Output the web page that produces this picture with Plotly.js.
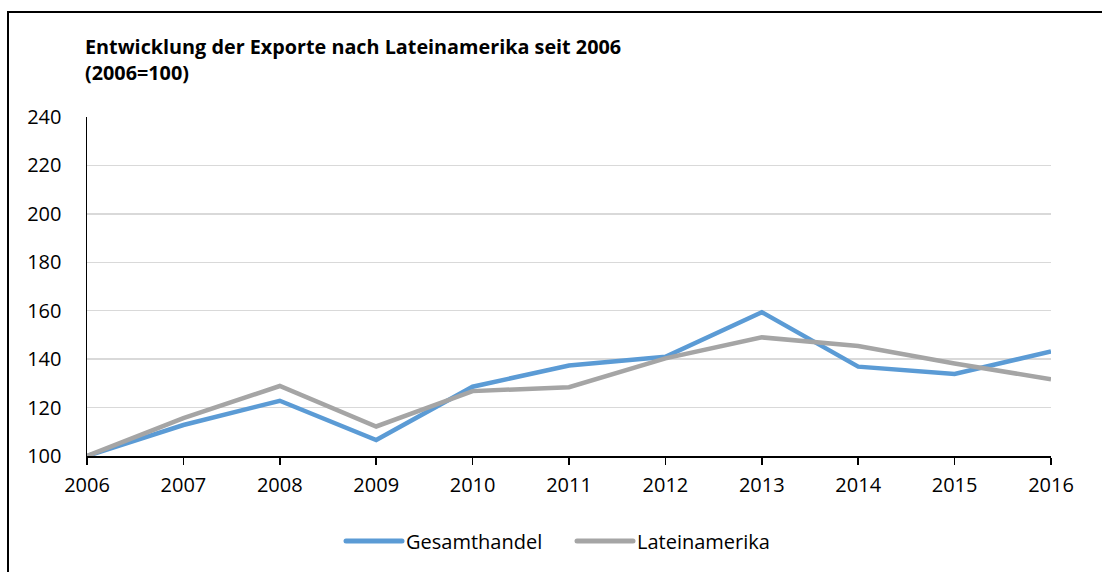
<!DOCTYPE html>
<html>
<head>
<meta charset="utf-8">
<script src="https://cdn.plot.ly/plotly-3.0.1.min.js"></script>
<style>html,body{margin:0;padding:0;background:#fff;}#chart{width:1102px;height:572px;}</style>
</head>
<body>
<div id="chart"></div>
<script>
const years = [2006, 2007, 2008, 2009, 2010, 2011, 2012, 2013, 2014, 2015, 2016];
const gesamthandel = [100, 112.8, 122.8, 106.6, 128.6, 137.4, 141, 159.4, 136.9, 133.9, 143.2];
const lateinamerika = [100, 115.6, 128.9, 112.2, 126.8, 128.4, 140.3, 149.0, 145.4, 138.2, 131.7];
const seriesNames = ["Gesamthandel", "Lateinamerika"];
const titleText = "Entwicklung der Exporte nach Lateinamerika seit 2006<br>(2006=100)";
const yTicks = [100, 120, 140, 160, 180, 200, 220, 240];

const font = "'Open Sans', 'Noto Sans', sans-serif";
const traces = [
  {x: years, y: gesamthandel, name: seriesNames[0], type: 'scatter', mode: 'lines',
   line: {color: '#5B9BD5', width: 4.5}},
  {x: years, y: lateinamerika, name: seriesNames[1], type: 'scatter', mode: 'lines',
   line: {color: '#A5A5A5', width: 4.5}}
];
const L = 87, R = 1051, T = 117, B = 456;
const pw = R - L, ph = B - T;
const layout = {
  width: 1102, height: 572,
  margin: {l: L, r: 1102 - R, t: T, b: 572 - B},
  paper_bgcolor: '#fff', plot_bgcolor: '#fff',
  font: {family: font, color: '#000', size: 20},
  title: {text: titleText, x: 85 / 1102, xanchor: 'left', xref: 'container',
          y: 1 - 54 / 572, yanchor: 'top', yref: 'container',
          font: {family: font, size: 19.8, color: '#000', weight: 'bold', lineposition: 'none'}},
  showlegend: true,
  legend: {orientation: 'h', x: (567 - L) / pw, xanchor: 'center', y: (B - 541) / ph, yanchor: 'middle',
           font: {family: font, size: 20, color: '#000'}, itemwidth: 60, traceorder: 'normal',
           entrywidth: 156, entrywidthmode: 'pixels'},
  xaxis: {range: [2006, 2016], tickvals: years, ticktext: years.map(String), showgrid: false, zeroline: false,
          showline: true, linecolor: '#000', linewidth: 1.5, ticks: 'outside', ticklen: 7, tickcolor: '#000',
          tickwidth: 1.5, ticklabelstandoff: 3, fixedrange: true},
  yaxis: {range: [100, 240], tickvals: yTicks, showgrid: true, gridcolor: '#D9D9D9', gridwidth: 1.5,
          zeroline: false, showline: true, linecolor: '#000', linewidth: 1.5, ticks: '',
          ticklabelstandoff: 20, fixedrange: true},
  shapes: [
    {type: 'rect', xref: 'paper', yref: 'paper',
     x0: (8 - L) / pw, x1: (1115 - L) / pw, y0: (B - 590) / ph, y1: (B - 12) / ph,
     line: {color: '#000', width: 2}, layer: 'below'}
  ]
};
Plotly.newPlot('chart', traces, layout, {displayModeBar: false, staticPlot: true}).then(function (gd) {
  // lengthen legend line samples to match the reference style
  gd.querySelectorAll('.legend .traces').forEach(function (g) {
    const txt = g.querySelector('text.legendtext');
    const path = g.querySelector('.legendlines path');
    if (!txt || !path) return;
    const tx = parseFloat(txt.getAttribute('x')) || 40;
    path.setAttribute('d', 'M' + (tx - 60) + ',0h56');
    path.style.strokeLinecap = 'round';
    path.style.strokeWidth = '5px';
  });
});
</script>
</body>
</html>
